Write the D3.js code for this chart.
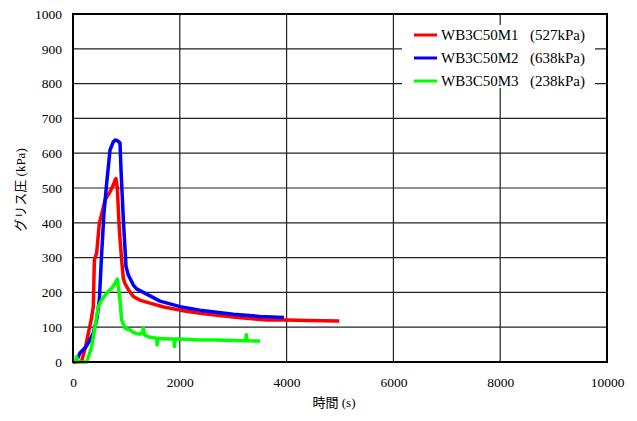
<!DOCTYPE html>
<html><head><meta charset="utf-8">
<script src="https://cdn.jsdelivr.net/npm/d3@7"></script>
<style>body{margin:0;background:#fff} svg text{font-family:'Liberation Serif','Noto Sans CJK JP',serif;fill:#000}</style>
</head><body>
<svg id="c" width="637" height="421"></svg>
<script>
const xTicks = [0, 2000, 4000, 6000, 8000, 10000];
const yTicks = [0, 100, 200, 300, 400, 500, 600, 700, 800, 900, 1000];
const seriesNames = ["WB3C50M1", "WB3C50M2", "WB3C50M3"];
const seriesPeaks = ["(527kPa)", "(638kPa)", "(238kPa)"];
const seriesColors = ["#ff0000", "#0000ff", "#00ff00"];

const m1Time = [0,100,163,230,287,340,380,400,443,493,556,600,693,756,787,805,830,868,911,943,974,1050,1130,1250,1442,1700,2004,2378,2700,3000,3300,3627,4000,4400,4987];
const m1Pres = [0,0,3,40,83,120,159,293,313,399,437,466,489,509,523,527,500,379,293,240,225,205,188,178,169,158,149,140,134,129,125,121,121,119,118];

const m2Time = [0,60,131,250,318,380,443,493,537,580,631,693,756,790,830,880,899,943,993,1036,1130,1192,1380,1630,2004,2378,3000,3500,3950];
const m2Pres = [0,2,26,45,63,83,121,178,313,428,514,609,633,638,636,630,552,408,274,250,221,210,195,175,159,149,137,131,128];

const m3Time = [0,50,69,90,256,300,350,412,474,537,631,725,787,830,849,880,911,974,1067,1130,1192,1250,1300,1317,1340,1442,1567,1575,1590,1700,1800,1890,1900,1915,2004,2300,2690,3000,3234,3245,3260,3502];
const m3Pres = [0,5,15,0,0,20,44,101,159,178,198,212,226,238,216,178,121,97,92,85,82,80,84,98,78,71,68,49,68,67,66,66,44,66,66,64,63,62,61,78,61,60];

const seriesData = [
  {t: m1Time, p: m1Pres},
  {t: m2Time, p: m2Pres},
  {t: m3Time, p: m3Pres}
];

const svg = d3.select("#c");
const L = 73, R = 607, T = 14, B = 362;
const x = d3.scaleLinear().domain([0, 10000]).range([L, R]);
const y = d3.scaleLinear().domain([0, 1000]).range([B, T]);
const serif = "'Liberation Serif', serif";

// grid
svg.append("g").selectAll("line.h").data(yTicks).join("line")
  .attr("x1", L).attr("x2", R).attr("y1", d => y(d)).attr("y2", d => y(d))
  .attr("stroke", "#222").attr("stroke-width", 1.2);
svg.append("g").selectAll("line.v").data(xTicks).join("line")
  .attr("y1", T).attr("y2", B).attr("x1", d => x(d)).attr("x2", d => x(d))
  .attr("stroke", "#222").attr("stroke-width", 1.2);

const yAxis = d3.axisLeft(y).tickValues(yTicks).tickSize(0).tickPadding(11).tickFormat(d3.format("d"));
const gy = svg.append("g").attr("transform", `translate(${L},0)`).call(yAxis);
gy.attr("font-family", null).attr("font-size", null);
gy.select(".domain").remove();
gy.selectAll("text").style("font-family", serif).style("font-size", "13.5px").attr("fill", "#000");

const xAxis = d3.axisBottom(x).tickValues(xTicks).tickSize(0).tickPadding(15).tickFormat(d3.format("d"));
const gx = svg.append("g").attr("transform", `translate(0,${B})`).call(xAxis);
gx.attr("font-family", null).attr("font-size", null);
gx.select(".domain").remove();
gx.selectAll("text").style("font-family", serif).style("font-size", "13.5px").attr("fill", "#000");

// series
const line = d3.line().x(d => x(d[0])).y(d => y(d[1]));
seriesData.forEach((s, i) => {
  const pts = s.t.map((t, k) => [t, s.p[k]]);
  svg.append("path").datum(pts).attr("d", line)
    .attr("fill", "none").attr("stroke", seriesColors[i])
    .attr("stroke-width", 3.5).attr("stroke-linejoin", "round");
});

// border
svg.append("rect").attr("x", L).attr("y", T).attr("width", R - L).attr("height", B - T)
  .attr("fill", "none").attr("stroke", "#000").attr("stroke-width", 2);

// legend
const lg = svg.append("g");
lg.append("rect").attr("x", 402).attr("y", 25).attr("width", 193).attr("height", 63).attr("fill", "#fff");
seriesNames.forEach((n, i) => {
  const cy = 35 + i * 23;
  lg.append("line").attr("x1", 414).attr("x2", 437).attr("y1", cy).attr("y2", cy)
    .attr("stroke", seriesColors[i]).attr("stroke-width", 3);
  lg.append("text").attr("x", 441).attr("y", cy + 5).text(n)
    .style("font-family", serif).style("font-size", "15px");
  lg.append("text").attr("x", 530).attr("y", cy + 5).text(seriesPeaks[i])
    .style("font-family", serif).style("font-size", "15px");
});

// axis titles
svg.append("text").attr("x", 334).attr("y", 407).attr("text-anchor", "middle")
  .style("font-size", "13px").text("時間 (s)");
svg.append("text").attr("transform", "translate(25,190) rotate(-90)").attr("text-anchor", "middle")
  .style("font-size", "13px").text("グリス圧 (kPa)");
</script>
</body></html>
